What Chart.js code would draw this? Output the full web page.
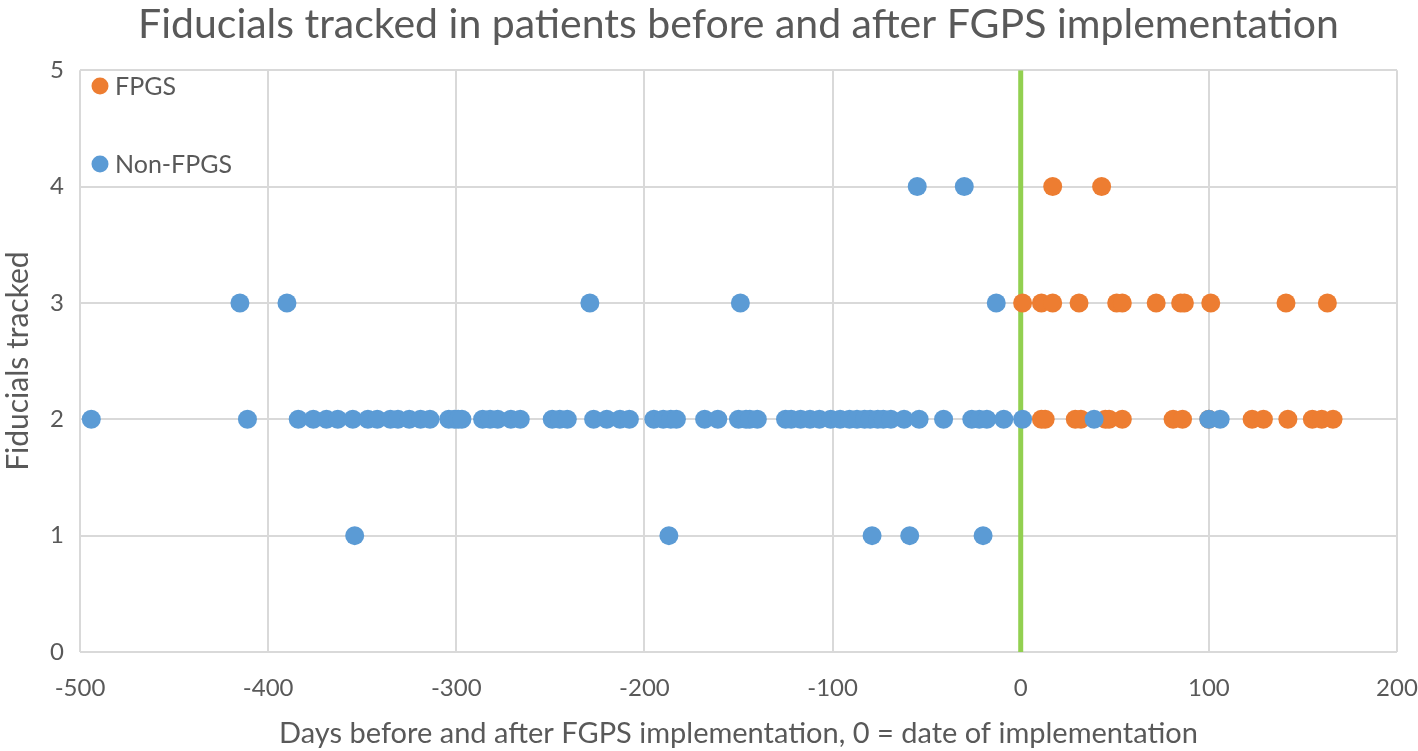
<!DOCTYPE html>
<html>
<head>
<meta charset="utf-8">
<script src="https://cdn.jsdelivr.net/npm/chart.js@4"></script>
<style>
  html, body { margin: 0; padding: 0; background: #fff; }
  #wrap { width: 1418px; height: 751px; }
</style>
</head>
<body>
<div id="wrap"><canvas id="scatterChart"></canvas></div>
<script>
// Non-FPGS patients: days relative to implementation, fiducials tracked
const nonDays = [
  -494, -411, -384, -376, -369, -363, -355, -347, -342, -335, -331, -325, -319, -314,
  -304, -301, -299, -297, -286, -282, -278, -271, -266, -249, -245, -241, -227, -220,
  -213, -208, -195, -190, -186, -183, -168, -161, -150, -146, -144, -140, -125, -122,
  -117, -112, -107, -101, -96, -91, -87, -83, -80, -76, -73, -69, -62, -54, -41, -26,
  -22, -18, -9, 1, 39, 100, 106,
  -415, -390, -229, -149, -13,
  -55, -30,
  -354, -187, -79, -59, -20
];
const nonTracked = [
  2, 2, 2, 2, 2, 2, 2, 2, 2, 2, 2, 2, 2, 2,
  2, 2, 2, 2, 2, 2, 2, 2, 2, 2, 2, 2, 2, 2,
  2, 2, 2, 2, 2, 2, 2, 2, 2, 2, 2, 2, 2, 2,
  2, 2, 2, 2, 2, 2, 2, 2, 2, 2, 2, 2, 2, 2, 2, 2,
  2, 2, 2, 2, 2, 2, 2,
  3, 3, 3, 3, 3,
  4, 4,
  1, 1, 1, 1, 1
];

// FPGS patients
const fpgsDays = [
  11, 13, 29, 32, 45, 47, 54, 81, 86, 100, 123, 129, 142, 155, 160, 166,
  1, 11, 17, 31, 51, 54, 72, 85, 87, 101, 141, 163,
  17, 43
];
const fpgsTracked = [
  2, 2, 2, 2, 2, 2, 2, 2, 2, 2, 2, 2, 2, 2, 2, 2,
  3, 3, 3, 3, 3, 3, 3, 3, 3, 3, 3, 3,
  4, 4
];

const xTicks = [-500, -400, -300, -200, -100, 0, 100, 200];
const yTicks = [0, 1, 2, 3, 4, 5];

const textColor = "#595959";
const gridColor = "#d9d9d9";
const fontFamily = "Lato, 'Open Sans', sans-serif";

function toPoints(xs, ys) {
  return xs.map(function (x, i) { return { x: x, y: ys[i] }; });
}

// legend sits inside the plot, top left, like the original
const insideLegend = {
  id: "insideLegend",
  afterDraw: function (chart) {
    const c = chart.ctx;
    const items = [
      { label: "FPGS", color: "#ed7d31", y: 86 },
      { label: "Non-FPGS", color: "#5b9bd5", y: 164 }
    ];
    c.save();
    c.font = "25px " + fontFamily;
    c.textBaseline = "middle";
    items.forEach(function (it) {
      c.fillStyle = it.color;
      c.beginPath();
      c.arc(100, it.y, 8.5, 0, Math.PI * 2);
      c.fill();
      c.fillStyle = textColor;
      c.fillText(it.label, 115, it.y + 1);
    });
    c.restore();
  }
};

var ctx = document.getElementById("scatterChart").getContext("2d");
var chart = new Chart(ctx, {
  type: "scatter",
  data: {
    datasets: [
      {
        label: "Non-FPGS",
        data: toPoints(nonDays, nonTracked),
        backgroundColor: "#5b9bd5",
        borderWidth: 0,
        pointRadius: 9.5,
        order: 0
      },
      {
        label: "FPGS",
        data: toPoints(fpgsDays, fpgsTracked),
        backgroundColor: "#ed7d31",
        borderWidth: 0,
        pointRadius: 9.5,
        order: 1
      },
      {
        // implementation date marker
        label: "Implementation",
        type: "line",
        data: [{ x: 0, y: 0 }, { x: 0, y: 5 }],
        borderColor: "#92d050",
        borderWidth: 5,
        pointRadius: 0,
        showLine: true,
        order: 2
      }
    ]
  },
  options: {
    responsive: true,
    maintainAspectRatio: false,
    animation: false,
    layout: { padding: { left: 0, right: 0, top: 0, bottom: 0 } },
    plugins: {
      legend: { display: false },
      tooltip: { enabled: false },
      title: {
        display: true,
        fullSize: false,
        text: "Fiducials tracked in patients before and after FGPS implementation",
        color: textColor,
        font: { family: fontFamily, size: 41, weight: "normal" },
        padding: { top: 0, bottom: 21 }
      }
    },
    scales: {
      x: {
        type: "linear",
        min: -500,
        max: 200,
        afterBuildTicks: function (axis) {
          axis.ticks = xTicks.map(function (v) { return { value: v }; });
        },
        afterFit: function (axis) {
          axis.height = 99;
          axis.paddingRight = 21;
          axis.paddingLeft = 0;
        },
        grid: { color: gridColor, lineWidth: 2, drawTicks: false },
        border: { display: false },
        ticks: {
          color: textColor,
          font: { family: fontFamily, size: 24 },
          padding: 22,
          maxRotation: 0
        },
        title: {
          display: true,
          text: "Days before and after FGPS implementation, 0 = date of implementation",
          color: textColor,
          font: { family: fontFamily, size: 29 },
          padding: { top: 0, bottom: 0 }
        }
      },
      y: {
        type: "linear",
        min: 0,
        max: 5,
        afterBuildTicks: function (axis) {
          axis.ticks = yTicks.map(function (v) { return { value: v }; });
        },
        afterFit: function (axis) { axis.width = 80; },
        grid: { color: gridColor, lineWidth: 2, drawTicks: false },
        border: { display: false },
        ticks: {
          color: textColor,
          font: { family: fontFamily, size: 24 },
          padding: 16
        },
        title: {
          display: true,
          text: "Fiducials tracked",
          color: textColor,
          font: { family: fontFamily, size: 30 },
          padding: { top: 0, bottom: 0 }
        }
      }
    }
  },
  plugins: [insideLegend]
});
</script>
</body>
</html>
